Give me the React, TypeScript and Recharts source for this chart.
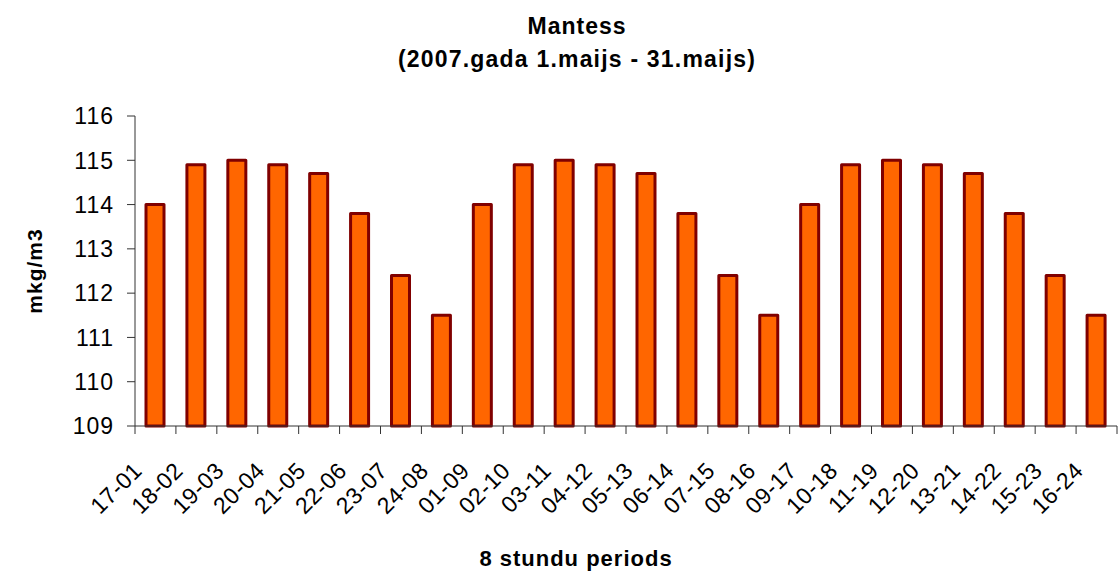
import React from "react"
import { BarChart, Bar, XAxis, YAxis } from "recharts"

// 8-hour periods (start hour - end hour)
const periods = [
  "17-01", "18-02", "19-03", "20-04", "21-05", "22-06", "23-07", "24-08",
  "01-09", "02-10", "03-11", "04-12", "05-13", "06-14", "07-15", "08-16",
  "09-17", "10-18", "11-19", "12-20", "13-21", "14-22", "15-23", "16-24",
]

// average concentration, mkg/m3
const values = [
  114.0, 114.9, 115.0, 114.9, 114.7, 113.8, 112.4, 111.5,
  114.0, 114.9, 115.0, 114.9, 114.7, 113.8, 112.4, 111.5,
  114.0, 114.9, 115.0, 114.9, 114.7, 113.8, 112.4, 111.5,
]

const yTicks = [109, 110, 111, 112, 113, 114, 115, 116]

const W = 1118
const H = 574
const PLOT_LEFT = 135
const PLOT_RIGHT = 1117
const PLOT_TOP = 116
const PLOT_BOTTOM = 426
const STEP = (PLOT_RIGHT - PLOT_LEFT) / periods.length

const FONT = "Arial, 'Liberation Sans', sans-serif"
const AXIS = "#333333"

const data = periods.map((p, i) => ({ name: p, value: values[i] }))

function XTick(props: any) {
  const { x, payload, index } = props
  const isLast = index === periods.length - 1
  const tx = x - 12
  const ty = PLOT_BOTTOM + 46
  return (
    <g>
      <line x1={x - STEP / 2} y1={PLOT_BOTTOM} x2={x - STEP / 2} y2={PLOT_BOTTOM + 8} stroke={AXIS} strokeWidth={1} />
      {isLast && (
        <line x1={x + STEP / 2} y1={PLOT_BOTTOM} x2={x + STEP / 2} y2={PLOT_BOTTOM + 8} stroke={AXIS} strokeWidth={1} />
      )}
      <text
        x={tx}
        y={ty}
        transform={`rotate(-45, ${tx}, ${ty})`}
        textAnchor="end"
        fontFamily={FONT}
        fontSize={23}
        letterSpacing={0.5}
        fill="#000"
      >
        {payload.value}
      </text>
    </g>
  )
}

function YTick(props: any) {
  const { y, payload } = props
  return (
    <g>
      <line x1={PLOT_LEFT - 8} y1={y} x2={PLOT_LEFT} y2={y} stroke={AXIS} strokeWidth={1} />
      <text
        x={PLOT_LEFT - 21}
        y={y}
        dy="0.36em"
        textAnchor="end"
        fontFamily={FONT}
        fontSize={23}
        letterSpacing={1}
        fill="#000"
      >
        {payload.value}
      </text>
    </g>
  )
}

export default function App() {
  return (
    <div style={{ position: "absolute", left: 0, top: 0, width: W, height: H, background: "#fff" }}>
      <BarChart
        width={W}
        height={H}
        data={data}
        margin={{ top: PLOT_TOP, right: W - PLOT_RIGHT, left: 0, bottom: 0 }}
      >
        <XAxis
          dataKey="name"
          interval={0}
          height={H - PLOT_BOTTOM}
          tickLine={false}
          axisLine={{ stroke: AXIS, strokeWidth: 1 }}
          tick={<XTick />}
        />
        <YAxis
          width={PLOT_LEFT}
          domain={[109, 116]}
          ticks={yTicks}
          interval={0}
          tickLine={false}
          axisLine={{ stroke: AXIS, strokeWidth: 1 }}
          tick={<YTick />}
        />
        <Bar
          dataKey="value"
          barSize={18}
          fill="#FF6600"
          stroke="#800000"
          strokeWidth={3}
          strokeLinejoin="round"
          isAnimationActive={false}
        />
      </BarChart>
      <svg width={W} height={H} style={{ position: "absolute", left: 0, top: 0, pointerEvents: "none" }}>
        <g fontFamily={FONT} fontWeight="bold" fill="#000" textAnchor="middle">
          <text x={577} y={34} fontSize={23} letterSpacing={1}>Mantess</text>
          <text x={577} y={67} fontSize={23} letterSpacing={1.2}>(2007.gada 1.maijs - 31.maijs)</text>
          <text x={576} y={566} fontSize={22} letterSpacing={1}>8 stundu periods</text>
          <text x={42} y={271} fontSize={21} letterSpacing={1} transform="rotate(-90, 42, 271)">mkg/m3</text>
        </g>
      </svg>
    </div>
  )
}
